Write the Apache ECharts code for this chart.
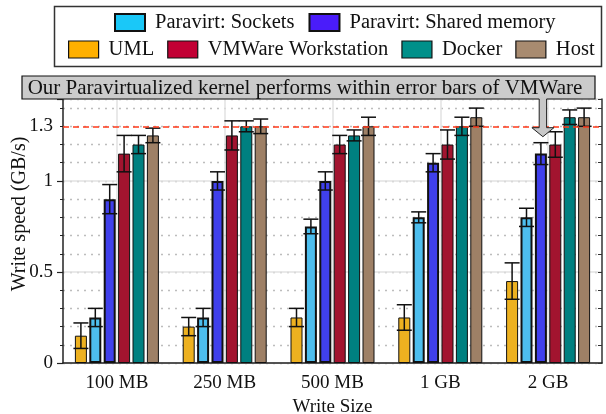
<!DOCTYPE html>
<html><head><meta charset="utf-8">
<script src="https://cdn.jsdelivr.net/npm/echarts@6/dist/echarts.min.js"></script>
<style>html,body{margin:0;padding:0;background:#fff}#c{width:606px;height:414px}</style>
</head><body><div id="c"></div>
<script>
// ---- data ----
const categories = ['100 MB', '250 MB', '500 MB', '1 GB', '2 GB'];
const seriesNames = ['UML', 'Paravirt: Sockets', 'Paravirt: Shared memory', 'VMWare Workstation', 'Docker', 'Host'];
const uml        = [0.15, 0.20, 0.25, 0.25, 0.45];
const umlErr     = [0.07, 0.05, 0.05, 0.07, 0.10];
const sockets    = [0.25, 0.25, 0.75, 0.80, 0.80];
const socketsErr = [0.05, 0.05, 0.04, 0.03, 0.05];
const shmem      = [0.90, 1.00, 1.00, 1.10, 1.15];
const shmemErr   = [0.08, 0.05, 0.05, 0.05, 0.06];
const vmware     = [1.15, 1.25, 1.20, 1.20, 1.20];
const vmwareErr  = [0.10, 0.08, 0.05, 0.08, 0.07];
const docker     = [1.20, 1.30, 1.25, 1.30, 1.35];
const dockerErr  = [0.05, 0.03, 0.03, 0.05, 0.04];
const host       = [1.25, 1.30, 1.30, 1.35, 1.35];
const hostErr    = [0.04, 0.04, 0.05, 0.05, 0.05];
const yTickLabels = ['0', '0.5', '1', '1.3'];
const referenceLine = 1.3;
const annotationText = 'Our Paravirtualized kernel performs within error bars of VMWare';
const legendRow1 = ['Paravirt: Sockets', 'Paravirt: Shared memory'];
const legendRow2 = ['UML', 'VMWare Workstation', 'Docker', 'Host'];

// ---- styles ----
const values = [uml, sockets, shmem, vmware, docker, host];
const errors = [umlErr, socketsErr, shmemErr, vmwareErr, dockerErr, hostErr];
const barColors = ['#EDB120', '#4DBEEE', '#4040EC', '#A2142F', '#008080', '#9E8066'];
const legendColors = ['#FFB000', '#1AC8F8', '#4A1CFA', '#C20034', '#00908A', '#A88B70'];
const borderWidths = [1, 2, 2, 1, 1, 1];
const BAR_W = 12, GAP = 2.4;
const offsets = values.map((_, i) => -(6 * BAR_W + 5 * GAP) / 2 + BAR_W / 2 + i * (BAR_W + GAP));
const FONT = "'Liberation Serif', 'DejaVu Serif', serif";
const minorTickCats = Array.from({length: (categories.length) * 5}, (_, k) => String(k));

const chart = echarts.init(document.getElementById('c'), null, {renderer: 'canvas'});

const barSeries = values.map((vals, i) => ({
  type: 'bar', name: seriesNames[i], data: vals,
  xAxisIndex: 0, yAxisIndex: 0,
  barWidth: BAR_W, barGap: '20%',
  itemStyle: {color: barColors[i], borderColor: '#111', borderWidth: borderWidths[i]},
  emphasis: {disabled: true}, z: 2
}));

const errSeries = values.map((vals, i) => ({
  type: 'custom', name: seriesNames[i] + ' error',
  xAxisIndex: 0, yAxisIndex: 0, z: 4, silent: true,
  data: vals.map((v, k) => [k, v, errors[i][k]]),
  encode: {x: 0, y: 1},
  renderItem: function (params, api) {
    const k = api.value(0), v = api.value(1), e = api.value(2);
    const x = api.coord([k, v])[0] + offsets[i];
    const yt = api.coord([k, v + e])[1];
    const yb = api.coord([k, v - e])[1];
    const st = {stroke: '#111', lineWidth: 1.5};
    return {type: 'group', children: [
      {type: 'line', shape: {x1: x, y1: yt, x2: x, y2: yb}, style: st},
      {type: 'line', shape: {x1: x - 7.5, y1: yt, x2: x + 7.5, y2: yt}, style: st},
      {type: 'line', shape: {x1: x - 7.5, y1: yb, x2: x + 7.5, y2: yb}, style: st}
    ]};
  }
}));

const refSeries = {
  type: 'line', name: 'ref', data: [], xAxisIndex: 0, yAxisIndex: 0, z: 10,
  markLine: {
    silent: true, symbol: 'none', label: {show: false},
    lineStyle: {color: '#FF3A1A', type: [6, 4], width: 1.5},
    data: [{yAxis: referenceLine}]
  }
};

function legendItems(names) {
  return names.map(n => {
    const i = seriesNames.indexOf(n);
    return {name: n, itemStyle: {color: legendColors[i], borderColor: '#111', borderWidth: borderWidths[i] === 2 ? 2 : 1.2}};
  });
}
const legendText = {fontFamily: FONT, fontSize: 20.5, color: '#111', padding: [0, 0, 0, 5]};

const option = {
  animation: false,
  backgroundColor: '#fff',
  textStyle: {fontFamily: FONT},
  grid: {left: 63, right: 4, top: 99, bottom: 51, containLabel: false, outerBoundsMode: 'none'},
  legend: [
    {data: legendItems(legendRow1), left: 109, top: 7, icon: 'rect', itemWidth: 30, itemHeight: 17,
     itemGap: 14, selectedMode: false, textStyle: legendText},
    {data: legendItems(legendRow2), left: 63, top: 34, icon: 'rect', itemWidth: 30, itemHeight: 17,
     itemGap: 13, selectedMode: false, textStyle: legendText}
  ],
  xAxis: [
    {type: 'category', data: categories, position: 'bottom',
     axisLine: {lineStyle: {color: '#222', width: 1.5}},
     axisTick: {alignWithLabel: true, length: 5, lineStyle: {color: '#222', width: 1.2}},
     axisLabel: {fontFamily: FONT, fontSize: 19, color: '#111', margin: 11},
     splitLine: {show: true, alignWithLabel: true, lineStyle: {color: '#e2e2e2', width: 1.5}},
     name: 'Write Size', nameLocation: 'middle', nameGap: 30,
     nameTextStyle: {fontFamily: FONT, fontSize: 19, color: '#111'}},
    {type: 'category', data: minorTickCats, position: 'bottom',
     axisLine: {show: false},
     axisTick: {alignWithLabel: true, inside: true, length: 3, lineStyle: {color: '#222', width: 1}},
     axisLabel: {show: false}, splitLine: {show: false}}
  ],
  yAxis: [
    {type: 'value', min: 0, max: 1.45, interval: 0.1, position: 'left',
     axisLine: {show: true, lineStyle: {color: '#222', width: 1.5}},
     axisTick: {show: true, length: 3, lineStyle: {color: '#222', width: 1}},
     axisLabel: {fontFamily: FONT, fontSize: 19, color: '#111', margin: 10,
       formatter: function (v) {
         const s = String(Math.round(v * 100) / 100);
         return yTickLabels.indexOf(s) >= 0 ? s : '';
       }},
     splitLine: {show: true, lineStyle: {color: '#bdbdbd', type: [2, 5], width: 1.3}}},
    {type: 'value', min: 0, max: 1.45, interval: 0.5, position: 'left',
     axisLine: {show: false}, axisLabel: {show: false},
     axisTick: {show: true, length: 6, lineStyle: {color: '#222', width: 1.2}},
     splitLine: {show: true, lineStyle: {color: '#e2e2e2', width: 1.5}}},
    {type: 'value', min: 0, max: 1.45, interval: 0.1, position: 'right',
     axisLine: {show: true, lineStyle: {color: '#333', width: 1.5}}, axisLabel: {show: false},
     axisTick: {show: true, inside: true, length: 4, lineStyle: {color: '#333', width: 1}},
     splitLine: {show: false}}
  ],
  series: barSeries.concat(errSeries, [refSeries])
};
chart.setOption(option);

// annotation graphics, arrow anchored at the shared-memory 2 GB error bar
const lastIdx = categories.length - 1;
const tipPx = chart.convertToPixel({xAxisIndex: 0, yAxisIndex: 0},
  [lastIdx, shmem[lastIdx] + shmemErr[lastIdx]]);
const cx = tipPx[0] + offsets[2] + 2;
const tipY = tipPx[1] - 6;
const boxY = 76, boxH = 23, boxB = boxY + boxH;
const sw = 3.7, hw = 11, hh = 9;
chart.setOption({
  graphic: [
    {type: 'rect', left: 52, top: 4, shape: {x: 0, y: 0, width: 547, height: 60},
     style: {fill: 'none', stroke: '#333', lineWidth: 1.5}, z: 100},
    {type: 'rect', shape: {x: 22, y: boxY, width: 573, height: boxH},
     style: {fill: '#CBCBCB', stroke: '#111', lineWidth: 1.2}, z: 100},
    {type: 'text', x: 305, y: boxY + boxH / 2 + 1,
     style: {text: annotationText, font: '21px ' + FONT, fill: '#111', align: 'center', verticalAlign: 'middle'}, z: 101},
    {type: 'polygon', shape: {points: [[cx - sw, boxB - 1.5], [cx + sw, boxB - 1.5], [cx + sw, tipY - hh], [cx + hw, tipY - hh],
      [cx, tipY], [cx - hw, tipY - hh], [cx - sw, tipY - hh]]},
     style: {fill: '#C8C8C8', stroke: 'none'}, z: 102},
    {type: 'polyline', shape: {points: [[cx - sw, boxB], [cx - sw, tipY - hh], [cx - hw, tipY - hh], [cx, tipY],
      [cx + hw, tipY - hh], [cx + sw, tipY - hh], [cx + sw, boxB]]},
     style: {fill: 'none', stroke: '#222', lineWidth: 1}, z: 102},
    {type: 'text', x: 20, y: 214, rotation: Math.PI / 2,
     style: {text: 'Write speed (GB/s)', font: '20px ' + FONT, fill: '#111', align: 'center', verticalAlign: 'middle'}, z: 100}
  ]
});
</script></body></html>
